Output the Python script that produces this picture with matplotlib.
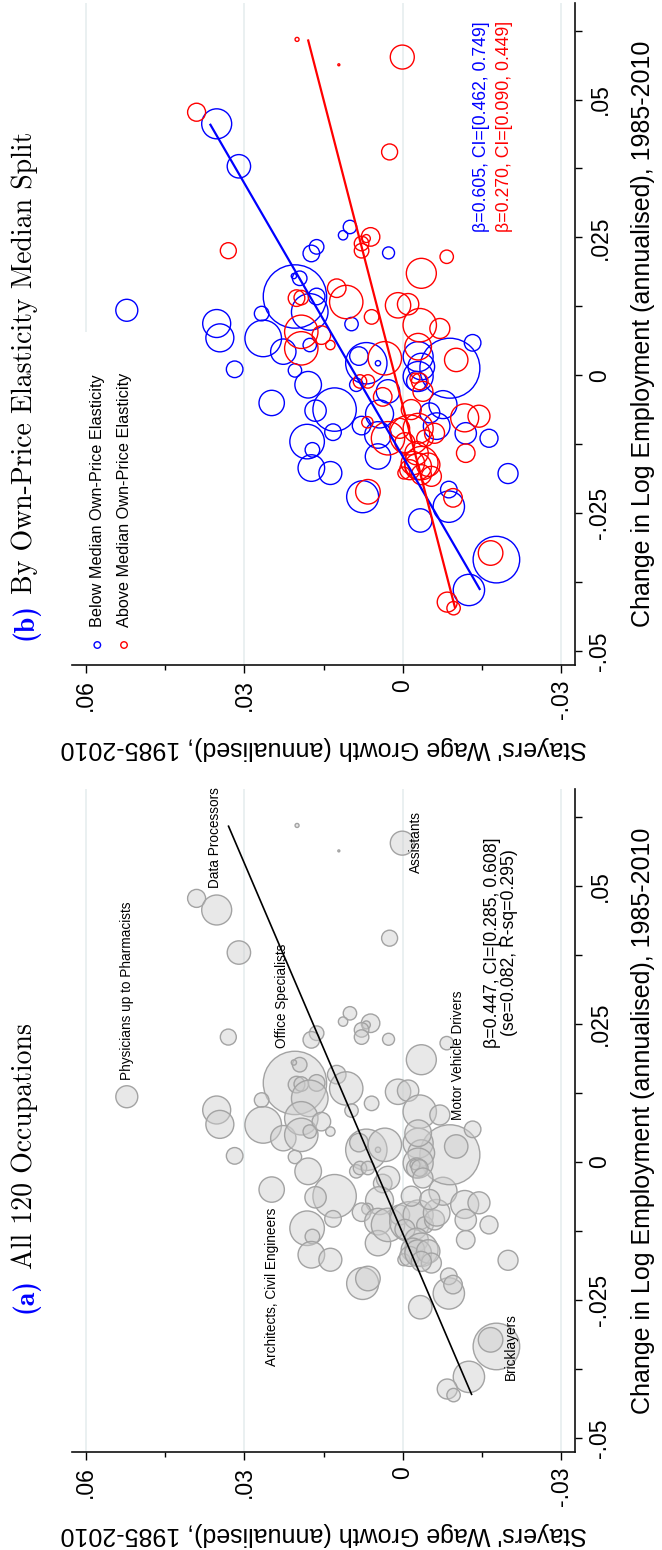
import matplotlib
matplotlib.use("Agg")
import matplotlib.pyplot as plt
from matplotlib.patches import Rectangle
from matplotlib.transforms import IdentityTransform
import numpy as np

# ---------------- data ----------------
# stayers' wage growth (annualised) and change in log employment (annualised)
wage_growth = [
    .0200, .0121, .0001, .0390, .0352, .0025, .0310, .0522,
    .0330, .0100, .0113, .0061, .0069, .0078, .0078, .0027, .0163, .0173,
    -.0083, -.0035, .0204, .0195, .0206, .0201, .0192, .0163, .0176, .0125,
    .0107, .0059, .0009, -.0010, -.0032, -.0070, .0267, .0097,
    .0352, .0346, .0264, .0226, .0192, .0192, .0154, .0137, .0176, .0318,
    .0204, .0179, .0248, .0129, .0165, .0132, .0181, .0171, .0173, .0137,
    .0069, .0083, .0047, .0034, .0088, .0081, .0066, .0038, .0028, .0044,
    .0067, .0078, .0047, .0047, .0028, .0006, -.0013, -.0029, -.0016, -.0004,
    -.0042, -.0026, -.0035, -.0019, -.0060, -.0064, -.0076, -.0051, -.0089, -.0101,
    -.0132, -.0029, -.0035, -.0029, -.0026, -.0029, -.0023, -.0032, -.0038, -.0117,
    -.0144, -.0119, -.0163, -.0119, -.0199,
    -.0002, -.0013, -.0029, -.0048, -.0054, -.0035, .0076, .0066, -.0033, -.0087,
    -.0087, -.0095, -.0177, -.0166, -.0125, -.0084, -.0096,
]
emp_change = [
    .0609, .0563, .0577, .0477, .0456, .0405, .0379, .0118,
    .0226, .0269, .0254, .0251, .0248, .0239, .0226, .0222, .0233, .0221,
    .0215, .0185, .0143, .0176, .0180, .0140, .0141, .0143, .0115, .0158,
    .0133, .0106, .0127, .0129, .0091, .0085, .0112, .0093,
    .0094, .0068, .0067, .0043, .0079, .0049, .0073, .0055, .0055, .0011,
    .0009, -.0017, -.0050, -.0062, -.0064, -.0103, -.0120, -.0135, -.0168, -.0177,
    .0022, .0035, .0022, .0031, -.0017, -.0011, -.0011, -.0039, -.0029, -.0070,
    -.0085, -.0091, -.0108, -.0147, -.0114, -.0096, -.0108, -.0096, -.0062, -.0122,
    -.0114, -.0141, -.0159, -.0159, -.0105, -.0092, -.0053, -.0068, .0013, .0028,
    .0059, .0034, .0016, -.0002, -.0011, .0052, -.0005, -.0011, -.0029, -.0077,
    -.0074, -.0105, -.0114, -.0141, -.0178,
    -.0177, -.0171, -.0165, -.0162, -.0183, -.0180, -.0220, -.0211, -.0263, -.0238,
    -.0207, -.0222, -.0334, -.0322, -.0389, -.0411, -.0422,
]
# employment weight (marker area)
emp_weight = [
    .04, .01, 1.44, .81, 2.25, .64, 1.37, 1.21,
    .64, .45, .22, .86, .16, .53, .53, .36, .53, .69,
    .45, 2.25, 10.05, .53, .07, .69, .53, .69, 3.35, .86,
    2.79, .53, 1.61, 1.14, 2.79, 1.0, .53, .45,
    1.96, 1.96, 3.35, 1.61, 2.79, 2.79, .86, .22, .45, .69,
    .45, 1.77, 1.61, 4.71, 1.14, .69, 2.99, .53, 1.77, 1.32,
    4.28, .86, .07, 2.79, .45, .45, .45, .86, 1.37, 1.96,
    .32, .86, 1.77, 1.61, 2.79, 1.0, 4.0, 2.25, 1.0, 1.0,
    .69, 1.37, 2.79, 1.37, 1.0, 1.77, 1.96, 1.0, 9.0, 1.37,
    .69, 2.25, 1.77, 2.25, 1.0, 1.77, .25, .69, 1.0, 1.96,
    1.21, 1.14, .81, .86, 1.0,
    .36, 1.0, 1.77, 1.37, 1.0, 1.0, 2.56, 1.51, 1.37, 2.46,
    .69, .86, 5.43, 1.51, 2.46, 1.0, .45,
]
# 0 = below median own-price elasticity, 1 = above median
elasticity_group = [
    1, 1, 1, 1, 0, 1, 0, 0,
    1, 0, 0, 1, 1, 1, 1, 0, 0, 0,
    1, 1, 0, 0, 0, 1, 1, 0, 0, 1,
    1, 1, 1, 1, 1, 1, 0, 0,
    0, 0, 0, 0, 1, 1, 1, 1, 0, 0,
    0, 0, 0, 0, 0, 0, 0, 0, 0, 0,
    0, 0, 0, 1, 0, 1, 1, 1, 0, 0,
    1, 0, 0, 0, 1, 1, 1, 1, 1, 1,
    1, 1, 1, 1, 1, 0, 0, 0, 0, 1,
    0, 0, 0, 0, 0, 1, 1, 1, 1, 1,
    1, 0, 0, 1, 0,
    1, 1, 1, 1, 1, 1, 0, 1, 0, 0,
    0, 1, 0, 1, 0, 1, 1,
]

# fitted lines: wage = intercept + slope * emp
fit_all = (0.0058, 0.447)
fit_below = (0.0089, 0.605)
fit_above = (0.0015, 0.270)

wage_ticks = [0.06, 0.03, 0.0, -0.03]
wage_ticklabels = ['.06', '.03', '0', '-.03']
wage_minor = [0.045, 0.015, -0.015]
emp_ticks = [-0.05, -0.025, 0.0, 0.025, 0.05]
emp_ticklabels = ['-.05', '-.025', '0', '.025', '.05']
emp_minor = [-0.0375, -0.0125, 0.0125, 0.0375, 0.0625]

# occupation labels: (text, wage, emp, alignment along text)
occ_labels = [
    ('Physicians up to Pharmacists', 0.0522, 0.0148, 'left'),
    ('Data Processors', 0.0356, 0.0496, 'left'),
    ('Office Specialists', 0.0229, 0.0206, 'left'),
    ('Motor Vehicle Drivers', -0.0104, 0.0075, 'left'),
    ('Assistants', -0.0025, 0.0579, 'center'),
    ('Architects, Civil Engineers', 0.0248, -0.0083, 'right'),
    ('Bricklayers', -0.0204, -0.0335, 'center'),
]

xlabel = "Stayers' Wage Growth (annualised), 1985-2010"
ylabel = "Change in Log Employment (annualised), 1985-2010"

# ---------------- figure ----------------
plt.rcParams['font.family'] = ['Liberation Sans', 'DejaVu Sans']
W, H = 662, 1550
fig = plt.figure(figsize=(W / 100, H / 100), dpi=100)


def px_box(left, top, right, bottom):
    return [left / W, 1 - bottom / H, (right - left) / W, (bottom - top) / H]


wage = np.array(wage_growth)
emp = np.array(emp_change)
wt = np.array(emp_weight)
grp = np.array(elasticity_group)
sizes = wt * 207.0

GRID = '#e4ecee'


def setup(ax, xlab_y):
    ax.set_xlim(0.0626, -0.0326)
    ax.set_ylim(-0.0525, 0.0675)
    for s in ['top', 'left']:
        ax.spines[s].set_visible(False)
    for s in ['bottom', 'right']:
        ax.spines[s].set_linewidth(1.2)
        ax.spines[s].set_color('#111111')
    ax.yaxis.tick_right()
    ax.yaxis.set_label_position('right')
    ax.set_xticks(wage_ticks)
    ax.set_xticklabels(wage_ticklabels, rotation=90, fontsize=16.5)
    ax.set_xticks(wage_minor, minor=True)
    ax.set_yticks(emp_ticks)
    ax.set_yticklabels(emp_ticklabels, rotation=90, fontsize=16.5, va='center')
    ax.set_yticks(emp_minor, minor=True)
    ax.tick_params(axis='x', which='major', length=5.8, width=1.0, pad=4.5)
    ax.tick_params(axis='x', which='minor', length=3.6, width=1.0)
    ax.tick_params(axis='y', which='both', length=5.0, width=1.0, pad=4.5)
    for v in wage_ticks:
        ax.axvline(v, color=GRID, lw=1.1, zorder=0)
    ax.set_xlabel(xlabel, rotation=180, fontsize=18, va='center', ha='center')
    ax.xaxis.set_label_coords(0.5, xlab_y)
    ax.set_ylabel(ylabel, rotation=90, fontsize=18, va='center', ha='center')
    ax.yaxis.set_label_coords(1.1347, 0.5)


# ----- panel (b) -----
ax_b = fig.add_axes(px_box(71.8, 3, 575.2, 665))
setup(ax_b, (665 - 748) / 662)
# legend background (covers gridline)
ax_b.add_patch(Rectangle((0.012, 0.0), 0.124, 0.503, transform=ax_b.transAxes,
                         facecolor='white', edgecolor='none', zorder=1))
for g, col in [(0, '#0000ff'), (1, '#ff0000')]:
    m = grp == g
    ax_b.scatter(wage[m], emp[m], s=sizes[m], facecolors='none', edgecolors=col,
                 linewidths=1.0, zorder=2)
for g, (a, b), col in [(0, fit_below, '#0000ff'), (1, fit_above, '#ff0000')]:
    m = grp == g
    er = np.array([emp[m].min(), emp[m].max()])
    ax_b.plot(a + b * er, er, color=col, lw=1.6, zorder=3, solid_capstyle='butt')

ax_b.text(-0.0149, 0.0260, 'β=0.605, CI=[0.462, 0.749]', color='#0000ff', fontsize=12.7,
          rotation=90, rotation_mode='anchor', ha='left', va='center', zorder=4)
ax_b.text(-0.0193, 0.0260, 'β=0.270, CI=[0.090, 0.449]', color='#ff0000', fontsize=12.7,
          rotation=90, rotation_mode='anchor', ha='left', va='center', zorder=4)

# legend entries
for xa, col, txt in [(0.0507, '#0000ff', 'Below Median Own-Price Elasticity'),
                     (0.1037, '#ff0000', 'Above Median Own-Price Elasticity')]:
    ax_b.scatter([xa], [0.0302], s=22, facecolors='none', edgecolors=col,
                 linewidths=1.0, transform=ax_b.transAxes, zorder=4, clip_on=False)
    ax_b.text(xa, 0.0574, txt, transform=ax_b.transAxes, fontsize=11.7, rotation=90,
              rotation_mode='anchor', ha='left', va='center', zorder=4)

# ----- panel (a) -----
ax_a = fig.add_axes(px_box(71.8, 789, 575.2, 1452))
setup(ax_a, (1452 - 1534) / 663)
ax_a.scatter(wage, emp, s=sizes, facecolor=(0.80, 0.80, 0.80, 0.45),
             edgecolor='#a3a3a3', linewidths=1.0, zorder=2)
er = np.array([emp.min(), emp.max()])
ax_a.plot(fit_all[0] + fit_all[1] * er, er, color='black', lw=1.2, zorder=3,
          solid_capstyle='butt')
for txt, wx, ey, ha in occ_labels:
    ax_a.text(wx, ey, txt, fontsize=9.8, rotation=90, rotation_mode='anchor',
              ha=ha, va='center', zorder=4)
ax_a.text(-0.0186, 0.0397, 'β=0.447, CI=[0.285, 0.608]\n(se=0.082, R-sq=0.295)',
          fontsize=12.7, rotation=90, rotation_mode='anchor', ha='center', va='center',
          multialignment='center', linespacing=0.95, zorder=4)

# ----- titles (bold blue letter + serif text) -----
fig.canvas.draw()
renderer = fig.canvas.get_renderer()


def title(start_y_px, letter, rest):
    base_x = 32.0
    t1 = fig.text(base_x, H - start_y_px, letter, transform=IdentityTransform(),
                  family='cmb10', color='#0000ff', fontsize=20, rotation=90,
                  rotation_mode='anchor', ha='left', va='baseline')
    bb = t1.get_window_extent(renderer=renderer)
    fig.text(base_x, bb.y1 + 9, rest, transform=IdentityTransform(),
             family='cmr10', color='black', fontsize=20, rotation=90,
             rotation_mode='anchor', ha='left', va='baseline')


title(640, '(b)', 'By Own-Price Elasticity Median Split')
title(1313, '(a)', 'All 120 Occupations')

fig.savefig('out.png', dpi=100)
